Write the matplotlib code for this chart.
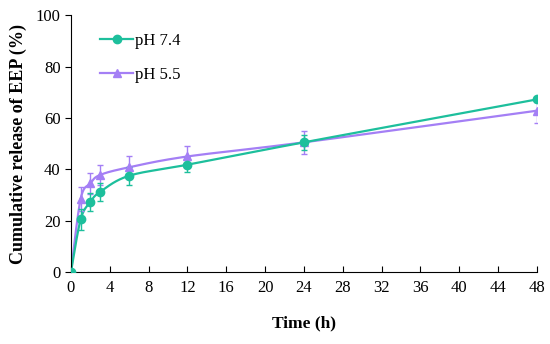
import numpy as np
import matplotlib.pyplot as plt

time_h = [0, 1, 2, 3, 6, 12, 24, 48]
ph74 = [0, 20.5, 27.3, 31.2, 37.5, 41.8, 50.5, 67.2]
ph74_err = [0, 4.0, 3.6, 3.6, 3.5, 3.0, 3.0, 1.0]
ph55 = [0, 28.5, 34.5, 37.8, 40.8, 45.0, 50.5, 62.8]
ph55_err = [0, 4.8, 4.2, 4.0, 4.2, 4.0, 4.5, 4.6]

TEAL = '#1dbf9c'
PURPLE = '#a47ff5'

plt.rcParams['font.family'] = ['Liberation Serif', 'DejaVu Serif']


def smooth(x, y, n=30):
    # catmull-rom style smoothing, like an Excel "smoothed line"
    px = np.concatenate([[x[0]], x, [x[-1]]]).astype(float)
    py = np.concatenate([[y[0]], y, [y[-1]]]).astype(float)
    t = np.linspace(0, 1, n)
    h00 = 2 * t**3 - 3 * t**2 + 1
    h10 = t**3 - 2 * t**2 + t
    h01 = -2 * t**3 + 3 * t**2
    h11 = t**3 - t**2
    xs, ys = [], []
    for i in range(1, len(px) - 2):
        for p, out in ((px, xs), (py, ys)):
            m1 = (p[i + 1] - p[i - 1]) / 2
            m2 = (p[i + 2] - p[i]) / 2
            out.extend(h00 * p[i] + h10 * m1 + h01 * p[i + 1] + h11 * m2)
    return np.array(xs), np.array(ys)


fig = plt.figure(figsize=(5.5, 3.44), dpi=100)
ax = fig.add_axes([0.129, 0.209, 0.847, 0.747])

for y, err, c, m in [(ph55, ph55_err, PURPLE, '^'),
                     (ph74, ph74_err, TEAL, 'o')]:
    sx, sy = smooth(time_h, y)
    ax.plot(sx, sy, color=c, lw=1.6, zorder=2)
    ax.errorbar(time_h, y, yerr=err, fmt='none', ecolor=c, elinewidth=1,
                capsize=2.5, capthick=1, zorder=3)
    ax.plot(time_h, y, linestyle='none', marker=m, color=c, ms=6, zorder=4)

h1, = ax.plot([], [], color=TEAL, marker='o', ms=6, lw=1.6, label='pH 7.4')
h2, = ax.plot([], [], color=PURPLE, marker='^', ms=6, lw=1.6, label='pH 5.5')
ax.legend(handles=[h1, h2], loc='upper left', bbox_to_anchor=(0.03, 0.99),
          frameon=False, fontsize=12, handlelength=2.0, handletextpad=0.1,
          labelspacing=1.1)

ax.set_xlim(0, 48)
ax.set_ylim(0, 100)
ax.set_xticks(range(0, 49, 4))
ax.set_yticks(range(0, 101, 20))
ax.spines['top'].set_visible(False)
ax.spines['right'].set_visible(False)
ax.spines['left'].set_linewidth(0.8)
ax.spines['bottom'].set_linewidth(0.8)
ax.tick_params(axis='x', direction='in', length=4, labelsize=12, pad=6)
ax.tick_params(axis='y', direction='out', length=4, labelsize=12)
ax.set_xlabel('Time (h)', fontsize=12.5, fontweight='bold', labelpad=14)
ax.set_ylabel('Cumulative release of EEP (%)', fontsize=13, fontweight='bold', labelpad=6)

fig.savefig('out.png', dpi=100)
